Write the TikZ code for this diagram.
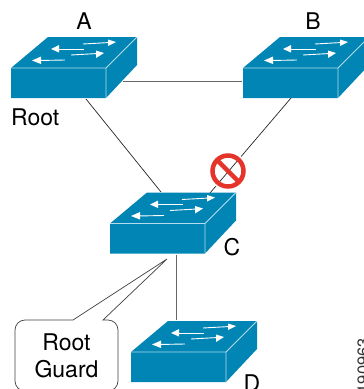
\documentclass[tikz,border=0pt]{standalone}
\usepackage{fontspec}
\setmainfont{TeX Gyre Heros}
\definecolor{swblue}{HTML}{0085B5}
\definecolor{swline}{HTML}{B5DCEB}
\definecolor{stopred}{HTML}{E5352B}
\tikzset{
  swbody/.style={fill=swblue},
  swedge/.style={draw=swline,line width=.8bp},
  swarrow/.style={draw=white,line width=.9bp},
  swhead/.style={fill=white},
  link/.style={draw=black!85,line width=.7bp},
  graylink/.style={draw=black!60,line width=1bp},
  lbl/.style={inner sep=0pt,font=\fontsize{23bp}{27bp}\selectfont,text=black},
  stopring/.style={draw=stopred,line width=4.5bp},
  balloon/.style={draw=black!75,line width=.7bp,fill=white}
}
\newcommand{\switchat}[2]{%
  \begin{scope}[shift={(#1,#2)}]
    \fill[swbody] (0,0) -- (37,-31) -- (126,-31) -- (126,-3) -- (95,30) -- (0,30) -- cycle;
    \draw[swedge] (0,0) -- (95,0) -- (95,30) (95,0) -- (126,-31);
    \draw[swarrow] (72,-24) -- (99,-25.5);
    \fill[swhead] (105,-26) -- (97,-28.5) -- (97,-22) -- cycle;
    \draw[swarrow] (46,-19) -- (73,-19);
    \fill[swhead] (40,-19) -- (48,-23) -- (48,-15.5) -- cycle;
    \draw[swarrow] (60,-13) -- (87,-14.5);
    \fill[swhead] (93,-15) -- (85,-17.5) -- (85,-10) -- cycle;
    \draw[swarrow] (27,-7.5) -- (54,-8);
    \fill[swhead] (21,-7.5) -- (30,-11.5) -- (30,-4) -- cycle;
  \end{scope}}
\begin{document}
\begin{tikzpicture}[x=1bp,y=-1bp]
  \useasboundingbox (0,0) rectangle (364,389);
  \clip (0,0) rectangle (364,389);
  \coordinate (ab1) at (123,81);
  \coordinate (ab2) at (242,81);
  \coordinate (ac1) at (86,99);
  \coordinate (ac2) at (161,192);
  \coordinate (bc1) at (291,98);
  \coordinate (bc2) at (210,193);
  \coordinate (cd1) at (176,255);
  \coordinate (cd2) at (176,320);
  \coordinate (stop) at (228,171);
  \coordinate (tip) at (167,259);
  \draw[graylink] (ab1) -- (ab2);
  \draw[link] (ac1) -- (ac2);
  \draw[link] (bc1) -- (bc2);
  \draw[graylink] (cd1) -- (cd2);
  % prohibition sign
  \fill[white] (stop) circle[radius=19.5];
  \begin{scope}
    \clip (stop) circle[radius=16];
    \draw[link] (bc1) -- (bc2);
  \end{scope}
  \draw[stopring] (stop) circle[radius=15.5];
  \draw[stopred,line width=4.5bp] (217,160) -- (239,182);
  % switches
  \switchat{11}{68}
  \switchat{243}{68}
  \switchat{110}{223.5}
  \switchat{131}{352}
  % callout
  \draw[balloon] (73,320) -- (tip) -- (103,320) -- (108,320)
    .. controls (113.5,320) and (118,324.5) .. (118,330) -- (118,381)
    .. controls (118,386.5) and (113.5,391) .. (108,391) -- (25,391)
    .. controls (19.5,391) and (15,386.5) .. (15,381) -- (15,330)
    .. controls (15,324.5) and (19.5,320) .. (25,320) -- cycle;
  \node[lbl,anchor=base] (rg1) at (66.5,350) {Root};
  \node[lbl,anchor=base] (rg2) at (66.5,377) {Guard};
  % labels
  \node[lbl,anchor=base] (la) at (84,29) {A};
  \node[lbl,anchor=base] (lb) at (313,29) {B};
  \node[lbl,anchor=base west] (lroot) at (11,125) {Root};
  \node[lbl,anchor=base] (lc) at (232,255) {C};
  \node[lbl,anchor=base] (ld) at (252,391) {D};
  \node[inner sep=0pt,rotate=90,anchor=base east,font=\fontsize{16.5bp}{18bp}\selectfont,text=black!80] (fig) at (369,338) {190963};
\end{tikzpicture}
\end{document}
